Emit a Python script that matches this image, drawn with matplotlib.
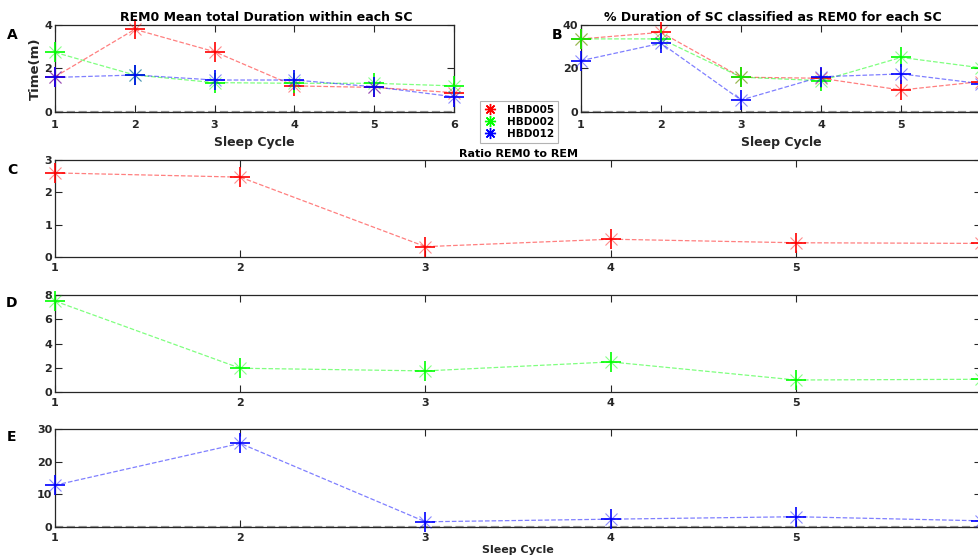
import matplotlib
matplotlib.use("Agg")
import matplotlib.pyplot as plt
from matplotlib.lines import Line2D

cycles = [1, 2, 3, 4, 5, 6]
subjects = ["HBD005", "HBD002", "HBD012"]
colors = ["#ff0000", "#00ff00", "#0000ff"]

# A: REM0 mean total duration (minutes)
dur_005 = [1.62, 3.80, 2.77, 1.20, 1.13, 0.89]
dur_002 = [2.74, 1.70, 1.35, 1.32, 1.32, 1.20]
dur_012 = [1.59, 1.70, 1.47, 1.47, 1.16, 0.70]

# B: % of SC duration classified as REM0
pct_005 = [33.6, 36.6, 16.0, 15.5, 10.1, 14.0]
pct_002 = [33.6, 33.6, 16.0, 14.4, 25.1, 20.3]
pct_012 = [23.6, 31.6, 5.5, 16.2, 17.5, 13.0]

# C/D/E: ratio REM0 to REM
ratio_005 = [2.60, 2.47, 0.32, 0.55, 0.44, 0.42]
ratio_002 = [7.50, 1.96, 1.74, 2.48, 0.99, 1.05]
ratio_012 = [12.8, 25.6, 1.6, 2.4, 3.15, 1.9]

TXT = "#262626"
plt.rcParams["font.family"] = "DejaVu Sans"
plt.rcParams["font.weight"] = "bold"

fig = plt.figure(figsize=(9.79, 5.6), dpi=100)


def style(ax, ylim, yticks, xlabels, xpad=3):
    ax.set_xlim(1, 6)
    ax.set_ylim(*ylim)
    ax.set_yticks(yticks)
    ax.set_xticks(cycles)
    ax.set_xticklabels(xlabels)
    ax.tick_params(direction="in", top=True, right=True, length=5, width=0.8,
                   colors=TXT, labelsize=8, pad=2)
    ax.tick_params(axis="x", pad=xpad)
    for lab in ax.get_xticklabels() + ax.get_yticklabels():
        lab.set_fontweight("bold")
    for s in ax.spines.values():
        s.set_color(TXT)
        s.set_linewidth(0.9)


def series(ax, y, c):
    ax.plot(cycles, y, "--", color=c, alpha=0.5, lw=0.9, zorder=2)
    ax.plot(cycles, y, "+", color=c, ms=14, mew=1.2, ls="none", zorder=3,
            clip_on=False)
    ax.plot(cycles, y, "x", color=c, ms=9, mew=0.8, alpha=0.45, ls="none",
            zorder=3, clip_on=False)


def zero_line(ax):
    ax.axhline(0, ls="--", color="#9a9a9a", lw=1.6, zorder=1, clip_on=False)


full = ["1", "2", "3", "4", "5", "6"]
cut = ["1", "2", "3", "4", "5", ""]

axA = fig.add_axes([0.0562, 0.8, 0.4075, 0.1554])
for y, c in zip([dur_005, dur_002, dur_012], colors):
    series(axA, y, c)
zero_line(axA)
style(axA, (0, 4), [0, 2, 4], full, xpad=6)
axA.set_title("REM0 Mean total Duration within each SC", fontsize=9,
              fontweight="bold", pad=3, x=0.53)
axA.set_xlabel("Sleep Cycle", fontsize=9, fontweight="bold", color=TXT, labelpad=4)
axA.set_ylabel("Time(m)", fontsize=9.5, fontweight="bold", color=TXT, labelpad=2)

axB = fig.add_axes([0.5935, 0.8, 0.4087, 0.1554])
for y, c in zip([pct_005, pct_002, pct_012], colors):
    series(axB, y, c)
zero_line(axB)
style(axB, (0, 40), [0, 20, 40], cut, xpad=6)
axB.set_title("% Duration of SC classified as REM0 for each SC", fontsize=9,
              fontweight="bold", pad=3, x=0.48)
axB.set_xlabel("Sleep Cycle", fontsize=9, fontweight="bold", color=TXT, labelpad=4)

axC = fig.add_axes([0.0562, 0.5411, 0.946, 0.1732])
series(axC, ratio_005, colors[0])
style(axC, (0, 3), [0, 1, 2, 3], cut, xpad=4)
axC.set_title("Ratio REM0 to REM", fontsize=8, fontweight="bold", pad=2)

axD = fig.add_axes([0.0562, 0.30, 0.946, 0.1732])
series(axD, ratio_002, colors[1])
style(axD, (0, 8), [0, 2, 4, 6, 8], cut, xpad=4)

axE = fig.add_axes([0.0562, 0.0589, 0.946, 0.175])
series(axE, ratio_012, colors[2])
zero_line(axE)
style(axE, (0, 30), [0, 10, 20, 30], cut, xpad=4)
axE.set_xlabel("Sleep Cycle", fontsize=8, fontweight="bold", color=TXT, labelpad=2)

for lab, yy in zip("ABCDE", [35, 35, 170, 303, 437]):
    xx = 557 if lab == "B" else 12
    fig.text(xx / 979, 1 - yy / 560, lab, fontsize=10, fontweight="bold",
             ha="center", va="center", color="black")

handles = [Line2D([], [], ls="none", marker=(8, 2, 0), color=c, ms=8, mew=1)
           for c in colors]
leg = fig.legend(handles, subjects, loc="upper left",
                 bbox_to_anchor=(475 / 979, 1 - 96 / 560),
                 prop={"size": 7.5, "weight": "bold"}, frameon=True,
                 fancybox=False, edgecolor="#a0a0a0", borderpad=0.35,
                 labelspacing=0.2, handlelength=1.2, handletextpad=1.0)
leg.get_frame().set_linewidth(0.8)

fig.savefig("out.png", dpi=100)
